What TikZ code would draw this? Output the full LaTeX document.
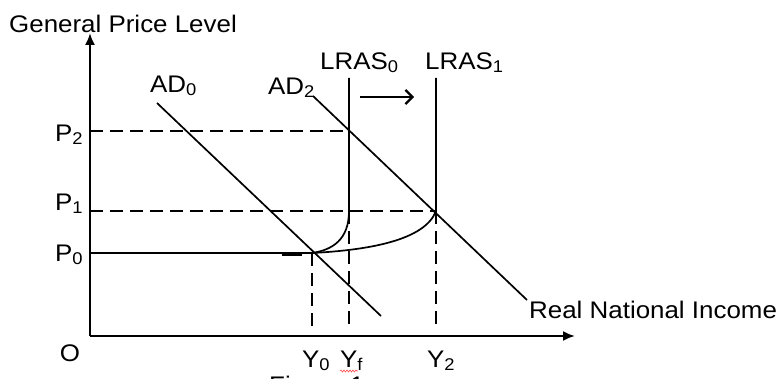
\documentclass[tikz,border=0pt]{standalone}
\usepackage{fontspec}
\setmainfont[FakeStretch=1.08]{Liberation Sans}
\usetikzlibrary{arrows.meta,decorations.pathmorphing}
\newcommand\mysb[1]{\raisebox{-0.12em}{\fontsize{17}{20}\selectfont #1}}
\begin{document}
\begin{tikzpicture}[x=1pt,y=-1pt,
  lbl/.style={font=\fontsize{24}{28}\selectfont, inner sep=0pt},
  axis/.style={line width=2pt},
  curveline/.style={line width=1.7pt},
  guide/.style={line width=1.7pt, dash pattern=on 13pt off 7pt},
]
\useasboundingbox (0,0) rectangle (784,379);
% key points
\coordinate (O) at (90,336);
\coordinate (ytop) at (90,33);
\coordinate (xend) at (575,336);
\coordinate (E0) at (312,253);
\coordinate (E1) at (436,211);
\coordinate (F0) at (349,211);
\coordinate (E2) at (349,131);
\coordinate (P2a) at (90,131);
\coordinate (P1a) at (90,211);
\coordinate (P0a) at (90,253);
\coordinate (Y0b) at (312,331);
\coordinate (Yfb) at (349,331);
\coordinate (Y2b) at (436,331);
\coordinate (L0top) at (349,78);
\coordinate (L1top) at (436,78);
\coordinate (AD0s) at (157,103);
\coordinate (AD0e) at (381,316);
\coordinate (AD2s) at (313,96);
\coordinate (AD2e) at (527,300);
\coordinate (sh0) at (360,97);
\coordinate (sh1) at (414,97);
% axes
\draw[axis,-{Latex[length=12pt,width=10pt]}] (O) -- (ytop);
\draw[axis,-{Latex[length=12pt,width=10pt]}] (O) -- (xend);
% guides
\draw[guide] (P2a) -- (E2);
\draw[guide] (P1a) -- (E1);
\draw[guide] (E0) -- (Y0b);
\draw[guide] (F0) -- (Yfb);
\draw[guide] (E1) -- (Y2b);
% P0 line
\draw[curveline] (P0a) -- (E0);
\draw[line width=3.5pt] (282,254) -- (302,254);
% AD curves
\draw[curveline] (AD0s) -- (AD0e);
\draw[curveline] (AD2s) -- (AD2e);
% LRAS curves
\draw[curveline] (L0top) -- (F0) .. controls (349,240) and (332,250) .. (E0);
\draw[curveline] (L1top) -- (E1) .. controls (425,240) and (370,250) .. (E0);
% shift arrow
\draw[line width=2.3pt,-{Straight Barb[length=7pt,width=14pt]}] (sh0) -- (sh1);
% labels
\node[lbl,anchor=west] (gpl) at (9,24) {General Price Level};
\node[lbl,anchor=west] (ad0) at (150,86) {AD\mysb{0}};
\node[lbl,anchor=west] (ad2) at (268,88) {AD\mysb{2}};
\node[lbl,anchor=west] (l0) at (320,63) {LRAS\mysb{0}};
\node[lbl,anchor=west] (l1) at (425,63) {LRAS\mysb{1}};
\node[lbl,anchor=west] (p2) at (55,135) {P\mysb{2}};
\node[lbl,anchor=west] (p1) at (55,204) {P\mysb{1}};
\node[lbl,anchor=west] (p0) at (55,255) {P\mysb{0}};
\node[lbl] (o) at (70,353) {O};
\node[lbl,anchor=west] (y0) at (302,361) {Y\mysb{0}};
\node[lbl,anchor=west] (yf) at (340,361) {Y\mysb{f}};
\node[lbl,anchor=west] (y2) at (427,361) {Y\mysb{2}};
\node[lbl,anchor=west] (rni) at (529,310) {Real National Income};
\node[lbl,anchor=base west] (fig) at (269,393) {Figure 1};
\draw[red!70,line width=0.6pt,decorate,decoration={snake,amplitude=1pt,segment length=3pt}] (340,371) -- (358,371);
\end{tikzpicture}
\end{document}
